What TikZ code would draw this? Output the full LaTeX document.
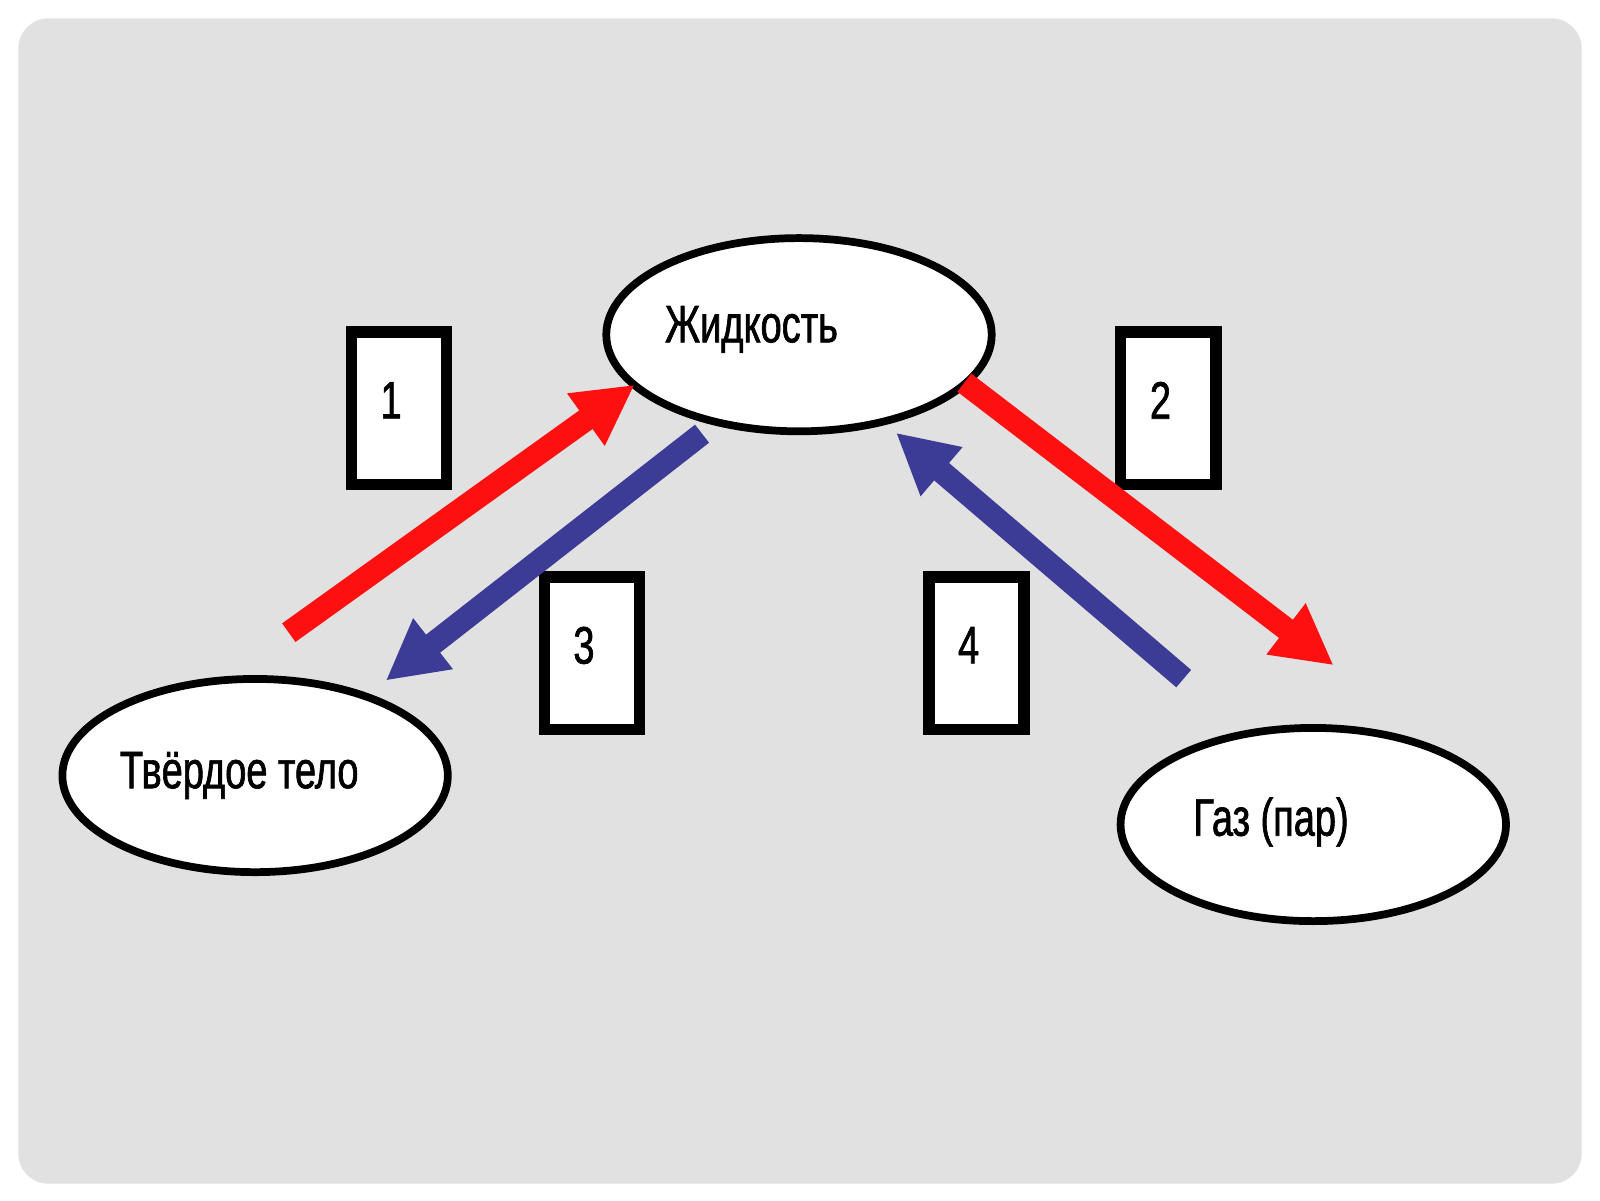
\documentclass[tikz,border=0pt]{standalone}
\usepackage{fontspec}
\setmainfont{Liberation Sans}
\newfontfamily\narrowfont[FakeStretch=0.72, FakeBold=1.2]{Liberation Sans}
\usetikzlibrary{positioning, arrows.meta, shapes.geometric}
\definecolor{bggray}{HTML}{E1E1E1}
\definecolor{arrred}{HTML}{FF1010}
\definecolor{arrblue}{HTML}{3C3C96}
\tikzset{
  state/.style={draw, ellipse, line width=2.2pt, fill=white, inner sep=0pt, minimum width=3.85cm, minimum height=1.93cm, font=\narrowfont\fontsize{15}{17}\selectfont},
  numbox/.style={draw, line width=3.2pt, fill=white, minimum width=0.95cm, minimum height=1.52cm, font=\narrowfont\fontsize{15}{17}\selectfont},
  flow/.style={line width=6.5pt, -{Triangle[length=0.6cm, width=0.6cm]}}
}
\begin{document}
\begin{tikzpicture}[x=0.0102cm, y=-0.0102cm]
		\useasboundingbox (0,0) rectangle (1568,1176);
		\fill[white] (0,0) rectangle (1568,1176);
		\fill[bggray, rounded corners=0.3cm] (18,18) rectangle (1550,1160);
		
		%States
		\node (liquid) at (783,328) [state]{\raisebox{0.4em}{\hspace{-1.8em}Жидкость}};
		\node (solid) at (250,760) [state]{\hspace{-0.6em}Твёрдое тело};
		\node (gas) at (1287,808) [state]{\raisebox{0.3em}{\hspace{-1.6em}Газ (пар)}};
		
		%Numbers
		\node (n1) at (391,400) [numbox]{\raisebox{0.3em}{\hspace{-0.3em}1}};
		\node (n2) at (1145,400) [numbox]{\raisebox{0.3em}{\hspace{-0.3em}2}};
		\node (n3) at (580,640) [numbox]{\raisebox{0.3em}{\hspace{-0.3em}3}};
		\node (n4) at (957,640) [numbox]{\raisebox{0.3em}{\hspace{-0.3em}4}};
		
		%Transitions
		\coordinate (s1) at (283,620);
		\coordinate (e1) at (622,377);
		\coordinate (s2) at (945,375);
		\coordinate (e2) at (1307,652);
		\coordinate (s3) at (688,425);
		\coordinate (e3) at (378,667);
		\coordinate (s4) at (1160,665);
		\coordinate (e4) at (878,424);
		\draw[flow, arrred] (s1) -- (e1);
		\draw[flow, arrred] (s2) -- (e2);
		\draw[flow, arrblue] (s3) -- (e3);
		\draw[flow, arrblue] (s4) -- (e4);
\end{tikzpicture}
\end{document}
